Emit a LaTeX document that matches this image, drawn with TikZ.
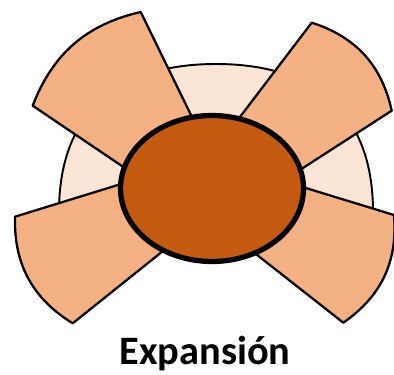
\documentclass[tikz,border=0pt]{standalone}
\usepackage{fontspec}
\usepackage{tikz}
\usetikzlibrary{shapes.geometric}
\newfontfamily\titlefont{Carlito}
\definecolor{domefill}{HTML}{FBE5D6}
\definecolor{petalfill}{HTML}{F4B183}
\definecolor{corefill}{HTML}{C55A11}

\begin{document}
\begin{tikzpicture}[
    x=0.02cm, y=-0.02cm,
    dome/.style={fill=domefill, draw=black, line width=1.1pt},
    petal/.style={fill=petalfill, draw=black, line width=1.3pt, line join=round},
    core/.style={ellipse, fill=corefill, draw=black, line width=3pt, minimum width=3.66cm, minimum height=2.92cm, inner sep=0pt},
    caption/.style={font=\titlefont\bfseries\fontsize{23}{27}\selectfont, anchor=base, inner sep=0pt}
]
    \useasboundingbox (0,0) rectangle (394,374);

    % Background dome
    \draw[dome] (59,212) .. controls (59,110) and (120,64) .. (216,64)
        .. controls (312,64) and (373,110) .. (373,212) -- cycle;

    % Petals (inner ends hidden under the core)
    \foreach \ia/\oa/\ob/\ib/\bnd in {
        {150,185}/{32.7,105.7}/{140.7,12}/{209.7,153.4}/28,
        {225.8,135.6}/{311.7,22.7}/{391.7,110.7}/{280.3,182.6}/30,
        {192.1,227.7}/{72.7,323.3}/{15,216.7}/{159.2,172.3}/30,
        {275,178.6}/{394,215}/{343.3,322.7}/{236.3,238.6}/30} {
        \draw[petal] (\ia) -- (\oa) to[bend left=\bnd] (\ob) -- (\ib) -- cycle;
    }

    % Core
    \node[core] (core) at (212,188.5) {};

    % Caption
    \node[caption] (title) at (205,364) {Expansión};
\end{tikzpicture}
\end{document}
